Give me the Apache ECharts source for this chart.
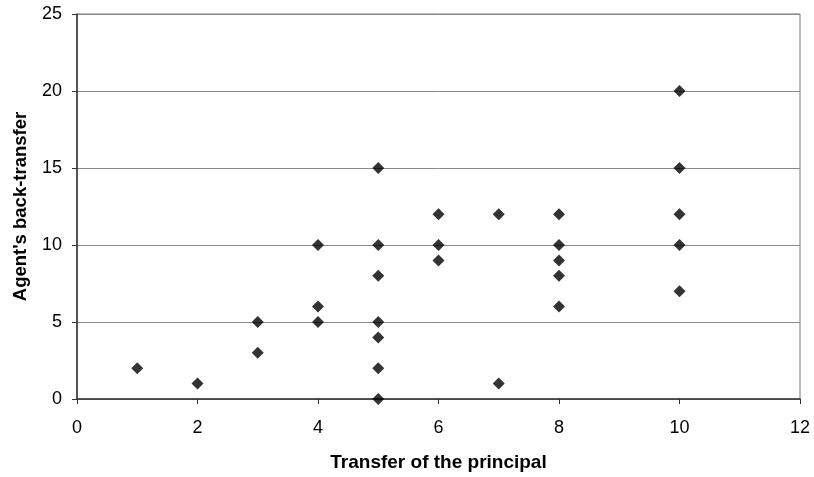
<!DOCTYPE html>
<html><head><meta charset="utf-8">
<script src="https://cdn.jsdelivr.net/npm/echarts@6/dist/echarts.min.js"></script>
<style>html,body{margin:0;padding:0;background:#fff}#c{width:814px;height:477px}</style>
</head><body><div id="c"></div>
<script>
var xValues = [1, 2, 3, 3, 4, 4, 4, 5, 5, 5, 5, 5, 5, 5, 6, 6, 6, 7, 7, 8, 8, 8, 8, 8, 10, 10, 10, 10, 10];
var yValues = [2, 1, 3, 5, 5, 6, 10, 0, 2, 4, 5, 8, 10, 15, 9, 10, 12, 1, 12, 6, 8, 9, 10, 12, 7, 10, 12, 15, 20];
var xTitle = "Transfer of the principal";
var yTitle = "Agent's back-transfer";

var data = xValues.map(function (x, i) { return [x, yValues[i]]; });
var chart = echarts.init(document.getElementById('c'));
var font = 'Liberation Sans, Arial, sans-serif';
chart.setOption({
  animation: false,
  grid: { left: 77, right: 14, top: 14, bottom: 75, show: true, borderColor: '#777', borderWidth: 1 },
  xAxis: {
    type: 'value', min: 0, max: 12, interval: 2,
    name: xTitle, nameLocation: 'middle', nameGap: 54,
    nameTextStyle: { fontFamily: font, fontWeight: 'bold', fontSize: 19, color: '#000' },
    axisLine: { show: true, onZero: false, lineStyle: { color: '#333', width: 1.5 } },
    axisTick: { show: true, length: 5, lineStyle: { color: '#333' } },
    axisLabel: { fontFamily: font, fontSize: 18, color: '#000', margin: 20 },
    splitLine: { show: false }
  },
  yAxis: {
    type: 'value', min: 0, max: 25, interval: 5,
    name: yTitle, nameLocation: 'middle', nameGap: 47, nameRotate: 90,
    nameTextStyle: { fontFamily: font, fontWeight: 'bold', fontSize: 18.5, color: '#000' },
    axisLine: { show: true, lineStyle: { color: '#333', width: 1.5 } },
    axisTick: { show: true, length: 5, lineStyle: { color: '#333' } },
    axisLabel: { fontFamily: font, fontSize: 18, color: '#000', margin: 15 },
    splitLine: { show: true, lineStyle: { color: '#888', width: 1 } }
  },
  series: [{
    type: 'scatter', data: data, symbol: 'diamond', symbolSize: 12,
    itemStyle: { color: '#000' }
  }]
});
</script></body></html>
